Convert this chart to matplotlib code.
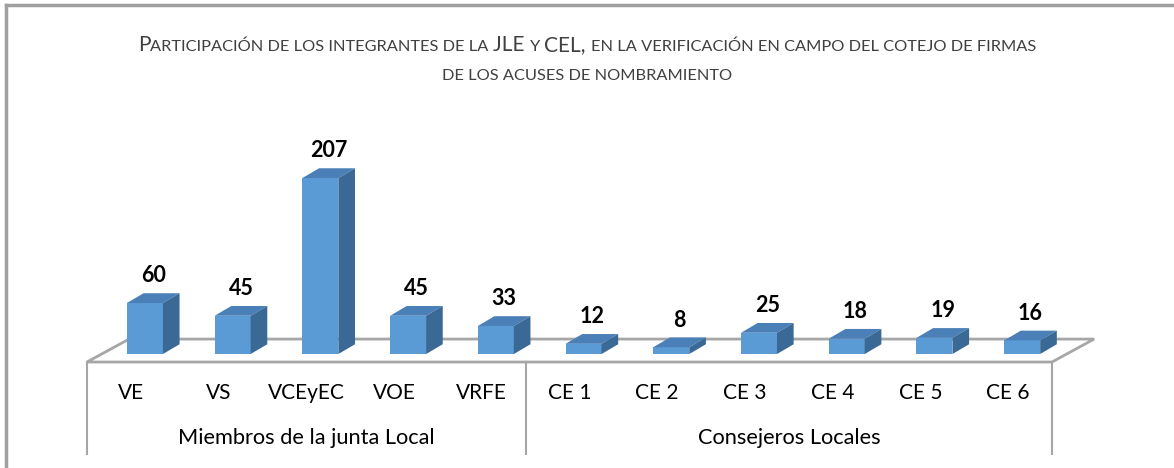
import matplotlib
matplotlib.use("Agg")
import matplotlib.pyplot as plt
from matplotlib.patches import Polygon
from matplotlib.offsetbox import TextArea, HPacker, VPacker, AnchoredOffsetbox

plt.rcParams['font.family'] = ['Lato', 'DejaVu Sans']

# Data
categories = ["VE", "VS", "VCEyEC", "VOE", "VRFE", "CE 1", "CE 2", "CE 3", "CE 4", "CE 5", "CE 6"]
values = [60, 45, 207, 45, 33, 12, 8, 25, 18, 19, 16]
groups = ["Miembros de la junta Local", "Consejeros Locales"]
group_sizes = [5, 6]
title_lines = ["Participación de los integrantes de la JLE y CEL, en la verificación en campo del cotejo de firmas",
               "de los acuses de nombramiento"]

# Colours
front_c = "#5B9BD5"
top_c = "#4A7FB8"
side_c = "#3B6995"
grid_c = "#A6A6A6"

# 3D-ish offsets (data units)
bar_w = 0.41
bar_dx = 0.16       # bar shift towards the back
bar_dy = 9.4
side_dx = 0.19
side_dy = 11.5
floor_dx = 0.48
floor_dy = 27

fig = plt.figure(figsize=(11.74, 4.68), dpi=100)
ax = fig.add_axes([87 / 1174, 1 - 458 / 468, 965 / 1174, 358 / 468])
ax.set_xlim(-0.5, len(categories) - 0.5)
ax.set_ylim(-112.9, 308.2)
ax.axis("off")

# chart border (left and top only visible)
fig.add_artist(plt.Line2D([6 / 1174, 6 / 1174], [0, 1 - 5 / 468], color="#A0A0A0", lw=2.5))
fig.add_artist(plt.Line2D([6 / 1174, 1], [1 - 5 / 468, 1 - 5 / 468], color="#A0A0A0", lw=2.5))

# floor
n = len(categories)
x0, x1 = -0.5, n - 0.5
floor = Polygon([(x0, 0), (x1, 0), (x1 + floor_dx, floor_dy), (x0 + floor_dx, floor_dy)],
                closed=True, facecolor="white", edgecolor=grid_c, lw=2, clip_on=False, zorder=1)
ax.add_patch(floor)

# bars
for i, v in enumerate(values):
    l = i - bar_w / 2 + bar_dx
    r = i + bar_w / 2 + bar_dx
    b = bar_dy
    t = bar_dy + v
    front = Polygon([(l, b), (r, b), (r, t), (l, t)], facecolor=front_c, edgecolor="none", zorder=3, clip_on=False)
    top = Polygon([(l, t), (r, t), (r + side_dx, t + side_dy), (l + side_dx, t + side_dy)],
                  facecolor=top_c, edgecolor="none", zorder=3, clip_on=False)
    side = Polygon([(r, b), (r + side_dx, b + side_dy), (r + side_dx, t + side_dy), (r, t)],
                   facecolor=side_c, edgecolor="none", zorder=3, clip_on=False)
    for p in (front, top, side):
        ax.add_patch(p)
    ax.text(i + bar_dx + side_dx / 2, t + side_dy + 8, str(v), ha="center", va="bottom",
            fontsize=15.5, fontweight="bold", color="black", zorder=4)

# category labels and group separators
for i, c in enumerate(categories):
    ax.text(i, -36.5, c, ha="center", va="center", fontsize=15, color="black")

start = 0
ax.plot([x0, x0], [0, -108], color=grid_c, lw=1.5, clip_on=False)
for g, size in zip(groups, group_sizes):
    end = start + size
    ax.plot([end - 0.5, end - 0.5], [0, -108], color=grid_c, lw=1.5, clip_on=False)
    ax.text((start + end - 1) / 2, -89.4, g, ha="center", va="center", fontsize=15.7, color="black")
    start = end


# title in small caps
def small_caps_line(s, big=15, small=11.8):
    parts = []
    run, run_up = "", None
    for ch in s:
        up = ch.isupper()
        if ch == " " or ch in ",.":
            up = run_up if run_up is not None else False
        if run_up is None or up == run_up:
            run += ch
            run_up = up
        else:
            parts.append((run, run_up))
            run, run_up = ch, up
    if run:
        parts.append((run, run_up))
    boxes = []
    for txt, up in parts:
        boxes.append(TextArea(txt.upper(), textprops=dict(fontsize=big if up else small, color="#404040")))
    return HPacker(children=boxes, pad=0, sep=0, align="baseline")


lines = [small_caps_line(t) for t in title_lines]
vbox = VPacker(children=lines, pad=0, sep=10, align="center")
anchored = AnchoredOffsetbox(loc="upper center", child=vbox, pad=0, frameon=False,
                             bbox_to_anchor=(0.5, 1 - 28 / 468), bbox_transform=fig.transFigure)
ax.add_artist(anchored)

fig.savefig("out.png", dpi=100)
